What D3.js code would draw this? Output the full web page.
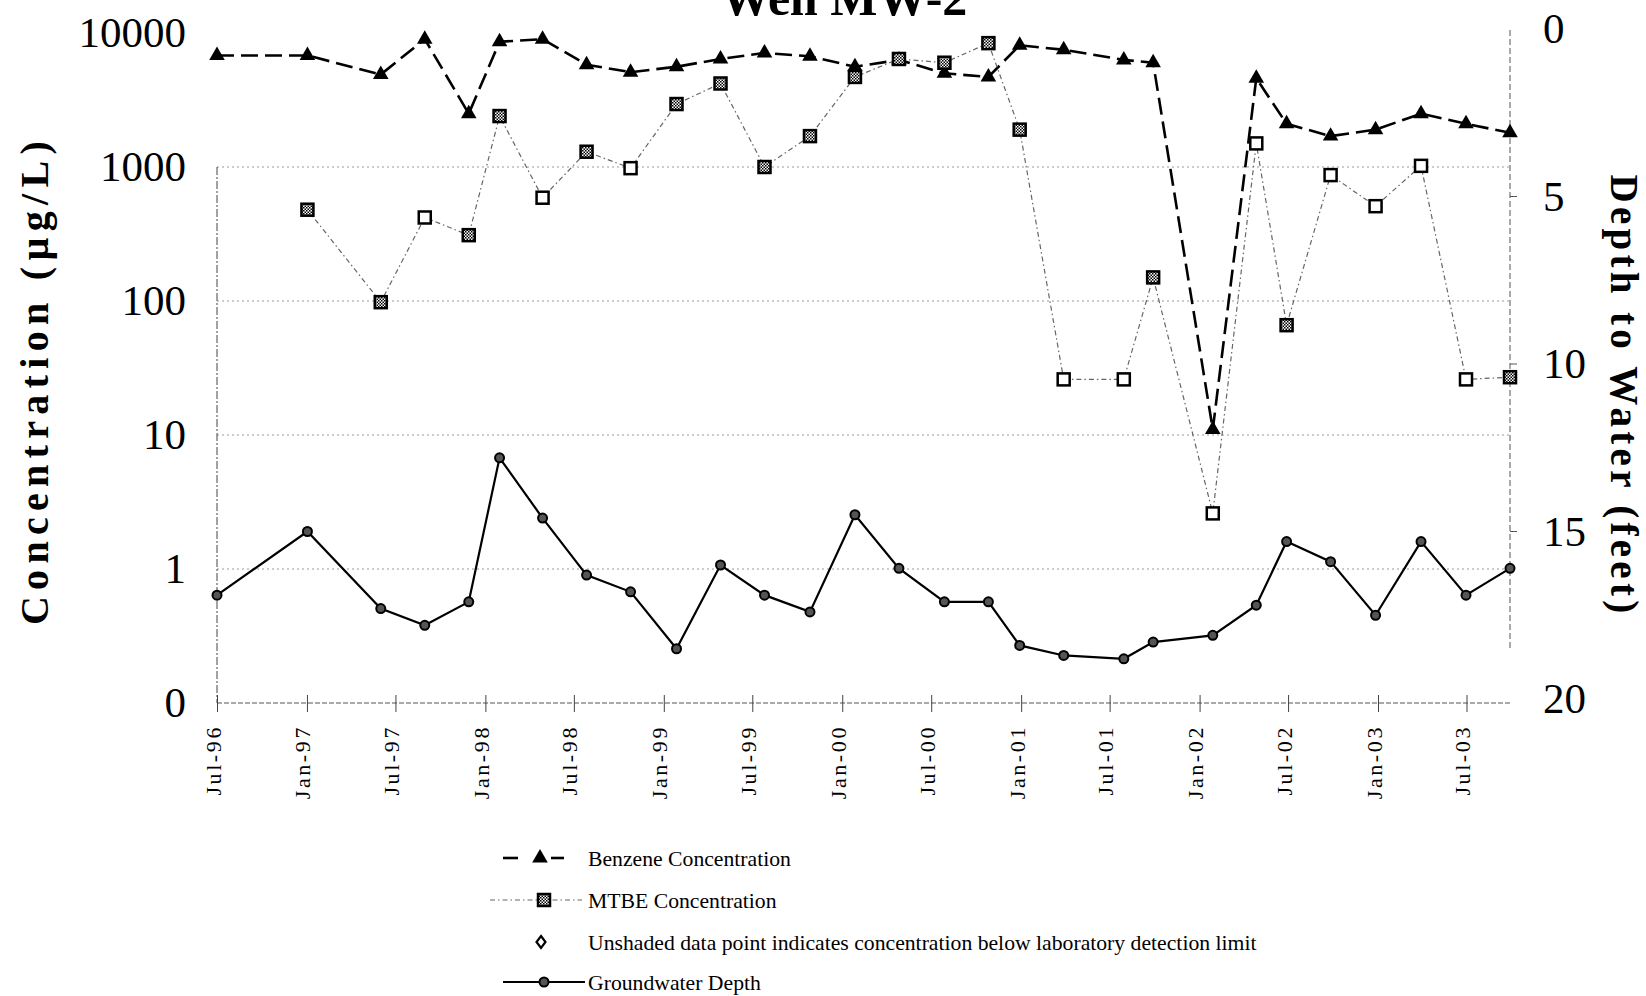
<!DOCTYPE html>
<html><head><meta charset="utf-8">
<script src="https://cdn.jsdelivr.net/npm/d3@7"></script>
<style>
body{margin:0;background:#fff}
svg{display:block}
text{font-family:"Liberation Serif","Times New Roman",serif;fill:#000}
</style>
</head><body>
<svg id="c" width="1646" height="996"></svg>
<script>
// ---- data ----
const sampleDates = ["1996-07-01","1997-01-02","1997-06-01","1997-08-30","1997-11-28","1998-01-30","1998-04-28","1998-07-27","1998-10-25","1999-01-27","1999-04-27","1999-07-26","1999-10-27","2000-01-27","2000-04-26","2000-07-28","2000-10-26","2000-12-29","2001-03-29","2001-07-30","2001-09-28","2002-01-28","2002-04-27","2002-06-28","2002-09-26","2002-12-27","2003-03-30","2003-06-30","2003-09-28"];
const benzene = [6800,6800,4900,9000,2500,8600,9000,5800,5100,5600,6400,7100,6700,5600,6300,5000,4700,8100,7500,6300,6000,11,4600,2100,1700,1900,2500,2100,1800];
const mtbe = [null,480,98,420,310,2400,590,1300,980,2950,4200,1000,1700,4700,6400,6000,8400,1900,26,26,150,2.6,1500,66,870,510,1020,26,27];
const mtbeDetected = [null,true,true,false,true,true,false,true,false,true,true,true,true,true,true,true,true,true,false,false,true,false,false,true,false,false,false,false,true];
const gwDepth = [16.9,15.0,17.3,17.8,17.1,12.8,14.6,16.3,16.8,18.5,16.0,16.9,17.4,14.5,16.1,17.1,17.1,18.4,18.7,18.8,18.3,18.1,17.2,15.3,15.9,17.5,15.3,16.9,16.1];
const xTickDates = ["1996-07-01","1997-01-01","1997-07-01","1998-01-01","1998-07-01","1999-01-01","1999-07-01","2000-01-01","2000-07-01","2001-01-01","2001-07-01","2002-01-01","2002-07-01","2003-01-01","2003-07-01"];
const xTickLabels = ["Jul-96","Jan-97","Jul-97","Jan-98","Jul-98","Jan-99","Jul-99","Jan-00","Jul-00","Jan-01","Jul-01","Jan-02","Jul-02","Jan-03","Jul-03"];
const concTicks = [0.1,1,10,100,1000,10000];
const concTickLabels = ["0","1","10","100","1000","10000"];
const depthTicks = [0,5,10,15,20];
const legendLabels = ["Benzene Concentration","MTBE Concentration","Unshaded data point indicates concentration below laboratory detection limit","Groundwater Depth"];

// ---- setup ----
const parse = d3.timeParse("%Y-%m-%d");
const svg = d3.select("#c");
const dates = sampleDates.map(parse);
const x = d3.scaleTime().domain([dates[0], dates[dates.length-1]]).range([217, 1510]);
const yc = d3.scaleLog().domain([0.1, 10000]).range([703, 33]);
const yd = d3.scaleLinear().domain([0, 20]).range([29, 699]);

const defs = svg.append("defs");
const pat = defs.append("pattern").attr("id","hatch").attr("patternUnits","userSpaceOnUse")
  .attr("width",3).attr("height",3);
pat.append("rect").attr("width",3).attr("height",3).attr("fill","#fff");
pat.append("rect").attr("width",1.5).attr("height",1.5).attr("fill","#000");
pat.append("rect").attr("x",1.5).attr("y",1.5).attr("width",1.5).attr("height",1.5).attr("fill","#000");

// gridlines
svg.append("g").selectAll("line").data([1,10,100,1000]).join("line")
  .attr("x1", x.range()[0]).attr("x2", x.range()[1])
  .attr("y1", d=>yc(d)).attr("y2", d=>yc(d))
  .attr("stroke","#999").attr("stroke-width",1).attr("stroke-dasharray","2,3");

// left axis line (visible portion)
svg.append("line").attr("x1",217).attr("x2",217).attr("y1",yc(1000)).attr("y2",yc(0.1))
  .attr("stroke","#444").attr("stroke-width",1).attr("stroke-dasharray","8,2,2,2");

// x axis baseline
svg.append("line").attr("x1",x.range()[0]).attr("x2",x.range()[1]).attr("y1",yc(0.1)).attr("y2",yc(0.1))
  .attr("stroke","#555").attr("stroke-width",1).attr("stroke-dasharray","5,2");

// right axis line
svg.append("line").attr("x1",1510).attr("x2",1510).attr("y1",30).attr("y2",650)
  .attr("stroke","#555").attr("stroke-width",1).attr("stroke-dasharray","6,3");
svg.append("g").selectAll("line").data([5,10,15]).join("line")
  .attr("x1",1510).attr("x2",1517).attr("y1",d=>yd(d)).attr("y2",d=>yd(d))
  .attr("stroke","#555").attr("stroke-width",1);

// left axis labels
const gl = svg.append("g").attr("transform","translate(217,0)")
  .call(d3.axisLeft(yc).tickValues(concTicks).tickSize(0).tickPadding(31)
    .tickFormat((d,i)=>concTickLabels[i]));
gl.select(".domain").remove();
gl.selectAll("text").style("font-size","43px").style("font-family","Liberation Serif");

// right axis labels
const gr = svg.append("g").attr("transform","translate(1510,0)")
  .call(d3.axisRight(yd).tickValues(depthTicks).tickSize(0).tickPadding(33));
gr.select(".domain").remove();
gr.selectAll("text").style("font-size","43px").style("font-family","Liberation Serif");

// x axis ticks + labels
const gx = svg.append("g").attr("transform",`translate(0,${yc(0.1)})`)
  .call(d3.axisBottom(x).tickValues(xTickDates.map(parse)).tickSize(8)
    .tickFormat((d,i)=>xTickLabels[i]));
gx.select(".domain").remove();
gx.selectAll(".tick line").attr("y1",-8).attr("y2",9).attr("stroke","#444");
gx.selectAll("text")
  .attr("y",0).attr("x",0).attr("dy","3px")
  .attr("transform","translate(0,22) rotate(-90)")
  .attr("text-anchor","end")
  .style("font-size","22px").style("letter-spacing","2.6px").style("font-family","Liberation Serif");

// groundwater
const gw = dates.map((d,i)=>({date:d, v:gwDepth[i]}));
svg.append("path").datum(gw)
  .attr("d", d3.line().x(d=>x(d.date)).y(d=>yd(d.v)))
  .attr("fill","none").attr("stroke","#000").attr("stroke-width",2.2);
svg.append("g").selectAll("circle").data(gw).join("circle")
  .attr("cx",d=>x(d.date)).attr("cy",d=>yd(d.v)).attr("r",4.5)
  .attr("fill","#555").attr("stroke","#000").attr("stroke-width",2);

// benzene
const bz = dates.map((d,i)=>({date:d, v:benzene[i]}));
svg.append("path").datum(bz)
  .attr("d", d3.line().x(d=>x(d.date)).y(d=>yc(d.v)))
  .attr("fill","none").attr("stroke","#000").attr("stroke-width",2.6).attr("stroke-dasharray","17,7");
const tri = d3.symbol().type(d3.symbolTriangle).size(105);
svg.append("g").selectAll("path").data(bz).join("path")
  .attr("d", tri).attr("transform", d=>`translate(${x(d.date)},${yc(d.v)})`)
  .attr("fill","#000");

// MTBE
const mt = dates.map((d,i)=>({date:d, v:mtbe[i], det:mtbeDetected[i]})).filter(d=>d.v!=null);
svg.append("path").datum(mt)
  .attr("d", d3.line().x(d=>x(d.date)).y(d=>yc(d.v)))
  .attr("fill","none").attr("stroke","#666").attr("stroke-width",1.2).attr("stroke-dasharray","5,3,1.5,3");
svg.append("g").selectAll("rect").data(mt).join("rect")
  .attr("x",d=>x(d.date)-6).attr("y",d=>yc(d.v)-6).attr("width",12).attr("height",12)
  .attr("fill",d=>d.det?"url(#hatch)":"#fff").attr("stroke","#000").attr("stroke-width",2.5);

// title
svg.append("text").attr("x",844).attr("y",15).attr("text-anchor","middle")
  .style("font-size","50px").style("font-weight","bold").text("Well MW-2");

// axis titles
svg.append("text").attr("transform","translate(48,380) rotate(-90)").attr("text-anchor","middle")
  .style("font-size","40px").style("font-weight","bold").style("letter-spacing","6.3px")
  .text("Concentration (µg/L)");
svg.append("text").attr("transform","translate(1611,396) rotate(90)").attr("text-anchor","middle")
  .style("font-size","39px").style("font-weight","bold").style("letter-spacing","4.3px")
  .text("Depth to Water (feet)");

// legend
const ly = [858,900,942,982];
const lg = svg.append("g");
lg.selectAll("text").data(legendLabels).join("text")
  .attr("x",588).attr("y",(d,i)=>ly[i]).attr("dy","0.35em")
  .style("font-size","21.7px").text(d=>d);
// row 1
lg.append("line").attr("x1",503).attr("x2",518).attr("y1",ly[0]).attr("y2",ly[0]).attr("stroke","#000").attr("stroke-width",2.6);
lg.append("line").attr("x1",551).attr("x2",564).attr("y1",ly[0]).attr("y2",ly[0]).attr("stroke","#000").attr("stroke-width",2.6);
lg.append("path").attr("d",tri).attr("transform",`translate(540,${ly[0]})`).attr("fill","#000");
// row 2
lg.append("line").attr("x1",490).attr("x2",582).attr("y1",ly[1]).attr("y2",ly[1]).attr("stroke","#666").attr("stroke-width",1.2).attr("stroke-dasharray","5,3,1.5,3");
lg.append("rect").attr("x",538).attr("y",ly[1]-6).attr("width",12).attr("height",12).attr("fill","url(#hatch)").attr("stroke","#000").attr("stroke-width",2.5);
// row 3
lg.append("path").attr("d",`M541,${ly[2]-6}L545.5,${ly[2]}L541,${ly[2]+6}L536.5,${ly[2]}Z`).attr("fill","#fff").attr("stroke","#000").attr("stroke-width",2.2);
// row 4
lg.append("line").attr("x1",503).attr("x2",585).attr("y1",ly[3]).attr("y2",ly[3]).attr("stroke","#000").attr("stroke-width",2);
lg.append("circle").attr("cx",544).attr("cy",ly[3]).attr("r",4.5).attr("fill","#555").attr("stroke","#000").attr("stroke-width",2);
</script>
</body></html>
